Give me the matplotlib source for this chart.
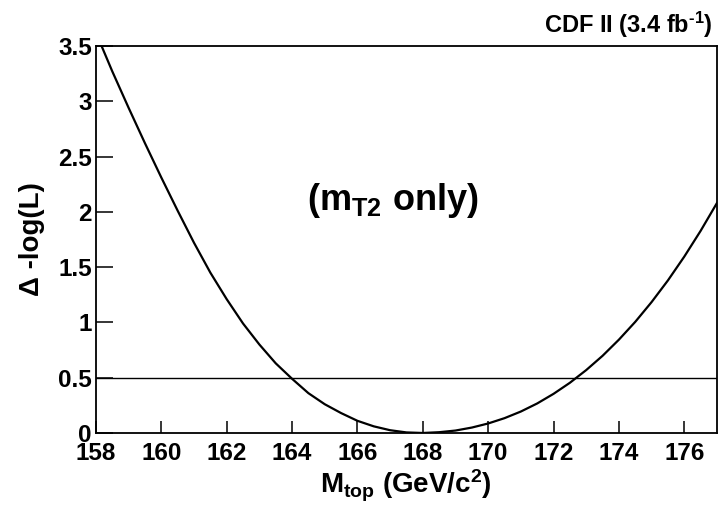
import matplotlib
matplotlib.use('Agg')
import matplotlib.pyplot as plt

plt.rcParams['font.family'] = ['Liberation Sans', 'DejaVu Sans']
plt.rcParams['font.weight'] = 'bold'
plt.rcParams['mathtext.fontset'] = 'custom'
plt.rcParams['mathtext.rm'] = 'Liberation Sans:bold'
plt.rcParams['mathtext.it'] = 'Liberation Sans:bold'
plt.rcParams['mathtext.bf'] = 'Liberation Sans:bold'

# scan of the top mass: -log(L) minus its minimum
mtop = [158.0, 158.5, 159.0, 159.5, 160.0, 160.5, 161.0, 161.5, 162.0, 162.5,
        163.0, 163.5, 164.0, 164.5, 165.0, 165.5, 166.0, 166.5, 167.0, 167.5,
        168.0, 168.5, 169.0, 169.5, 170.0, 170.5, 171.0, 171.5, 172.0, 172.5,
        173.0, 173.5, 174.0, 174.5, 175.0, 175.5, 176.0, 176.5, 177.0]
dnll = [3.62, 3.27, 2.94, 2.62, 2.31, 2.01, 1.72, 1.45, 1.21, 0.99,
        0.80, 0.63, 0.49, 0.36, 0.26, 0.18, 0.11, 0.06, 0.025, 0.005,
        0.0, 0.007, 0.022, 0.049, 0.086, 0.134, 0.194, 0.267, 0.354, 0.454,
        0.569, 0.698, 0.844, 1.005, 1.184, 1.380, 1.595, 1.828, 2.080]

# one sigma level
level = 0.5

xticks = [158, 160, 162, 164, 166, 168, 170, 172, 174, 176]
yticks = [0, 0.5, 1, 1.5, 2, 2.5, 3, 3.5]
ytick_labels = ['0', '0.5', '1', '1.5', '2', '2.5', '3', '3.5']

fig = plt.figure(figsize=(7.21, 5.07), dpi=100)
ax = fig.add_axes([0.1331, 0.146, 0.8613, 0.7633])

ax.plot(mtop, dnll, color='black', lw=1.6)
ax.axhline(level, color='black', lw=1.0)

ax.set_xlim(158, 177)
ax.set_ylim(0, 3.5)
ax.set_xticks(xticks)
ax.set_yticks(yticks)
ax.set_yticklabels(ytick_labels)
ax.tick_params(axis='x', direction='in', length=8.6, width=1.1, pad=6.5,
               labelsize=17.5, top=False)
ax.tick_params(axis='y', direction='in', length=12.5, width=1.1, pad=3,
               labelsize=17.5, right=False)
for s in ax.spines.values():
    s.set_linewidth(1.3)

ax.text(167.09, 2.02, r'(m$_{\rm T2}$ only)', fontsize=26,
        ha='center', va='baseline')

fig.text(0.563, 0.0276, r'M$_{\rm top}$ (GeV/c$^{\rm 2}$)', fontsize=20,
         ha='center', va='baseline')
fig.text(0.044, 0.528, 'Δ -log(L)', fontsize=20, rotation=90,
         ha='center', va='center')
fig.text(0.989, 0.935, r'CDF II (3.4 fb$^{\text{-1}}$)', fontsize=17,
         ha='right', va='baseline')

fig.savefig('out.png', dpi=100)
